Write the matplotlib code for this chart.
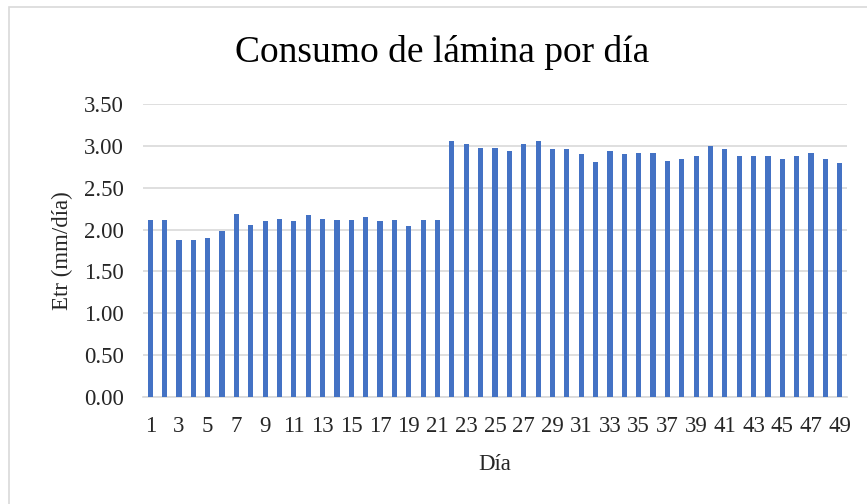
import matplotlib
matplotlib.use("Agg")
import matplotlib.pyplot as plt
from matplotlib.patches import Rectangle

days = list(range(1, 50))
etr = [2.12, 2.12, 1.87, 1.87, 1.90, 1.98, 2.19, 2.06, 2.10, 2.13,
       2.10, 2.17, 2.13, 2.12, 2.12, 2.15, 2.10, 2.12, 2.04, 2.12,
       2.12, 3.06, 3.02, 2.98, 2.98, 2.94, 3.02, 3.06, 2.96, 2.96,
       2.90, 2.81, 2.94, 2.90, 2.92, 2.92, 2.82, 2.84, 2.88, 3.00,
       2.96, 2.88, 2.88, 2.88, 2.84, 2.88, 2.92, 2.84, 2.79]
yticks = [0.0, 0.5, 1.0, 1.5, 2.0, 2.5, 3.0, 3.5]

plt.rcParams['font.family'] = ['Liberation Serif', 'DejaVu Serif']

W, H = 867, 504
fig = plt.figure(figsize=(W / 100, H / 100), dpi=100)
ax = fig.add_axes([143 / W, 1 - 397 / H, (847 - 143) / W, (397 - 104) / H])

ax.bar(days, etr, width=0.36, color='#4472C4', zorder=3)
ax.set_xlim(0.5, 49.5)
ax.set_ylim(0, 3.5)
ax.set_yticks(yticks)
ax.set_yticklabels([f"{v:.2f}" for v in yticks], fontsize=16.5, color='#262626')
ax.set_xticks(days[::2])
ax.set_xticklabels([str(d) for d in days[::2]], fontsize=16.5, color='#262626')
ax.tick_params(axis='both', length=0)
ax.tick_params(axis='y', pad=14)
ax.tick_params(axis='x', pad=14)
ax.grid(axis='y', color='#d9d9d9', linewidth=1.2, zorder=0)
for s in ['top', 'right', 'left']:
    ax.spines[s].set_visible(False)
ax.spines['bottom'].set_color('#d9d9d9')
ax.spines['bottom'].set_linewidth(1.2)

ax.set_ylabel('Etr (mm/día)', fontsize=16.5, color='#262626', labelpad=8)
ax.set_xlabel('Día', fontsize=16.5, color='#262626', labelpad=12)
fig.text(442 / W, 1 - 53 / H, 'Consumo de lámina por día', ha='center', va='center',
         fontsize=27, color='#000000')

fig.patches.append(Rectangle((9 / W, -0.05), 1.2, 1 - 7 / H + 0.05,
                             transform=fig.transFigure, fill=False,
                             edgecolor='#d9d9d9', linewidth=1.2))

fig.savefig('out.png', dpi=100)
